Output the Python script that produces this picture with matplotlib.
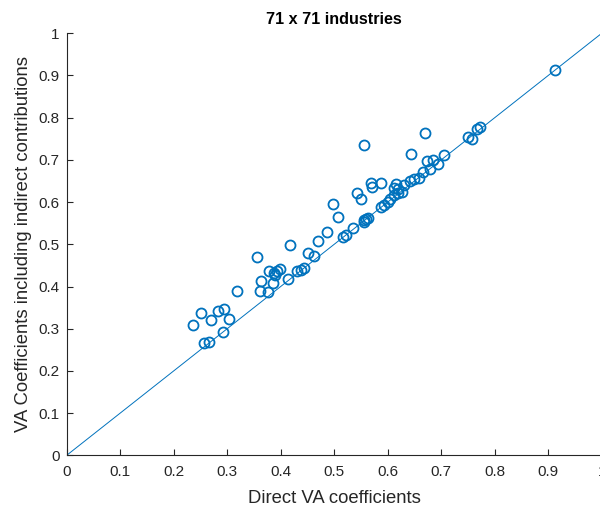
import matplotlib
matplotlib.use("Agg")
import matplotlib.pyplot as plt
import numpy as np

direct_va = [0.912, 0.751, 0.757, 0.766, 0.773, 0.669, 0.643, 0.706, 0.673, 0.684,
             0.694, 0.679, 0.659, 0.666, 0.641, 0.650, 0.556, 0.569, 0.587, 0.571,
             0.542, 0.550, 0.615, 0.630, 0.611, 0.620, 0.627, 0.588, 0.593, 0.600,
             0.605, 0.612, 0.619, 0.555, 0.560, 0.556, 0.535, 0.517, 0.522, 0.498,
             0.507, 0.487, 0.470, 0.451, 0.463, 0.438, 0.431, 0.444, 0.418, 0.356,
             0.378, 0.388, 0.394, 0.399, 0.386, 0.363, 0.361, 0.376, 0.414, 0.318,
             0.251, 0.236, 0.270, 0.283, 0.294, 0.303, 0.293, 0.257, 0.266, 0.390,
             0.563]
total_va = [0.913, 0.754, 0.749, 0.773, 0.778, 0.764, 0.715, 0.712, 0.697, 0.700,
            0.691, 0.678, 0.657, 0.672, 0.650, 0.655, 0.735, 0.645, 0.646, 0.635,
            0.621, 0.608, 0.644, 0.640, 0.634, 0.630, 0.623, 0.588, 0.594, 0.601,
            0.607, 0.616, 0.622, 0.558, 0.561, 0.553, 0.539, 0.518, 0.522, 0.595,
            0.565, 0.529, 0.507, 0.479, 0.473, 0.440, 0.437, 0.443, 0.499, 0.469,
            0.437, 0.432, 0.436, 0.441, 0.409, 0.414, 0.390, 0.388, 0.418, 0.390,
            0.338, 0.309, 0.321, 0.342, 0.347, 0.323, 0.292, 0.266, 0.268, 0.427,
            0.563]
ref_line = [0, 1]
ticks = [0, 0.1, 0.2, 0.3, 0.4, 0.5, 0.6, 0.7, 0.8, 0.9, 1]
tick_labels = ["0", "0.1", "0.2", "0.3", "0.4", "0.5", "0.6", "0.7", "0.8", "0.9", "1"]

plt.rcParams['font.family'] = ['Liberation Sans', 'DejaVu Sans']
gray = '#262626'
blue = '#0072BD'

fig = plt.figure(figsize=(6.0, 5.11), dpi=100)
ax = fig.add_axes([66.7/600, (511-455.3)/511, 535/600, 422/511])

ax.plot(ref_line, ref_line, color=blue, lw=0.7)
ax.plot(direct_va, total_va, linestyle='none', marker='o', markersize=7.2,
        markerfacecolor='none', markeredgecolor=blue, markeredgewidth=1.3)

ax.set_xlim(0, 1)
ax.set_ylim(0, 1)
ax.set_xticks(ticks)
ax.set_xticklabels(tick_labels)
ax.set_yticks(ticks)
ax.set_yticklabels(tick_labels)
for s in ['top', 'right']:
    ax.spines[s].set_visible(False)
for s in ['left', 'bottom']:
    ax.spines[s].set_color(gray)
    ax.spines[s].set_linewidth(0.8)
ax.tick_params(direction='in', length=4, width=0.8, colors=gray, labelsize=11)
ax.tick_params(axis='x', pad=7)
ax.tick_params(axis='y', pad=5)
ax.set_xlabel("Direct VA coefficients", fontsize=13.3, color=gray, labelpad=8)
ax.set_ylabel("VA Coefficients including indirect contributions", fontsize=13.3, color=gray, labelpad=5)
ax.set_title("71 x 71 industries", fontsize=11.6, fontweight='bold', color='black', pad=7)

fig.savefig("out.png", dpi=100)
